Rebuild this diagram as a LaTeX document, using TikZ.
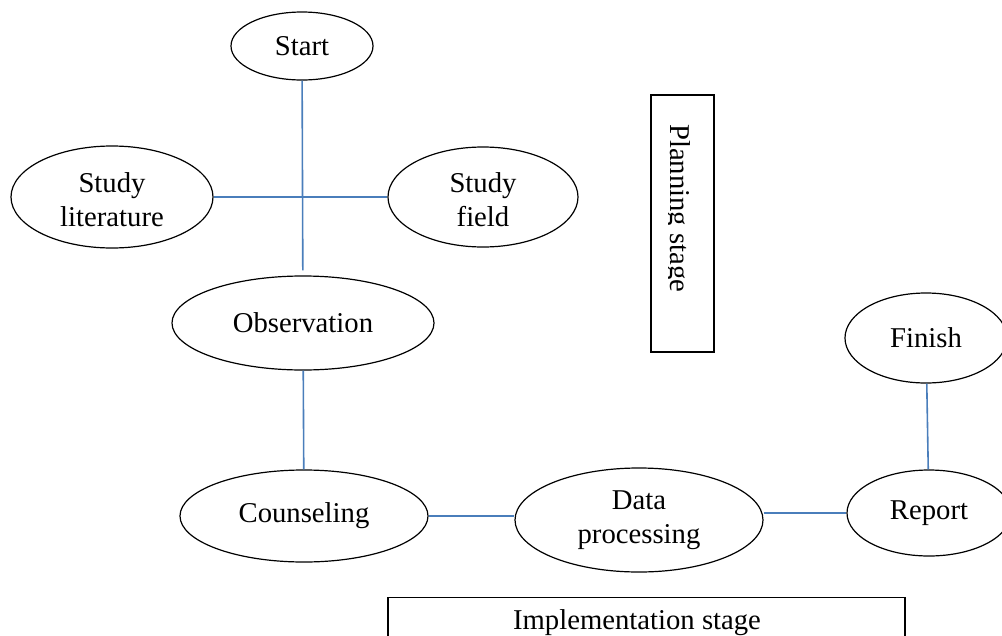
\documentclass[tikz,border=0pt]{standalone}
\usepackage{fontspec}
\setmainfont{Liberation Serif}
\usetikzlibrary{shapes.geometric,calc}
\definecolor{conn}{RGB}{74,126,187}
\begin{document}
\begin{tikzpicture}[x=1pt,y=-1pt,
  bub/.style={ellipse,draw,line width=1.2pt,inner sep=0pt,align=center,
    font=\fontsize{28.7}{34.3}\selectfont},
  link/.style={draw=conn,line width=1.6pt},
  stagebox/.style={rectangle,draw,line width=1.3pt,inner sep=0pt},
  stagetext/.style={inner sep=0pt,font=\fontsize{28.7}{34}\selectfont}]
\useasboundingbox (0,0) rectangle (1002,635);
\clip (0,0) rectangle (1002,635);
% bubbles
\node[bub,minimum width=142pt,minimum height=68pt] (start) at (302,46) {Start};
\node[bub,minimum width=202pt,minimum height=102pt] (lit) at (112,197) {\rule{0pt}{25pt}Study\\literature};
\node[bub,minimum width=190pt,minimum height=100pt] (field) at (483,197) {\rule{0pt}{25pt}Study\\field};
\node[bub,minimum width=262pt,minimum height=94pt] (obs) at (303,323) {Observation};
\node[bub,minimum width=248pt,minimum height=92pt] (couns) at (304,516) {Counseling};
\node[bub,minimum width=248pt,minimum height=104pt] (data) at (639,520) {Data\\processing};
\node[bub,minimum width=164pt,minimum height=86pt] (report) at (929,513) {Report};
\node[bub,minimum width=162pt,minimum height=90pt] (finish) at (926,338) {Finish};
% connectors
\draw[link,shorten >=5pt] (start) -- (obs);
\draw[link] (lit) -- (field);
\draw[link] (obs) -- (couns);
\draw[link] (couns.east) -- (couns.east -| data.west);
\draw[link] (report.west -| data.east) -- (report.west);
\draw[link] (finish) -- (report);
% planning stage box
\node[stagebox,minimum width=63pt,minimum height=257pt] (plan) at (682.5,223.5) {};
\begin{scope}
  \clip (668.5,97) rectangle (712,296);
  \node[stagetext,rotate=-90,anchor=base west] (plantext) at (670,124) {Planning stage};
\end{scope}
% implementation stage box
\node[stagebox,minimum width=517pt,minimum height=80pt,anchor=north] (impl) at (646.5,597) {};
\node[stagetext,anchor=base] (impltext) at (637,629) {Implementation stage};
\end{tikzpicture}
\end{document}
